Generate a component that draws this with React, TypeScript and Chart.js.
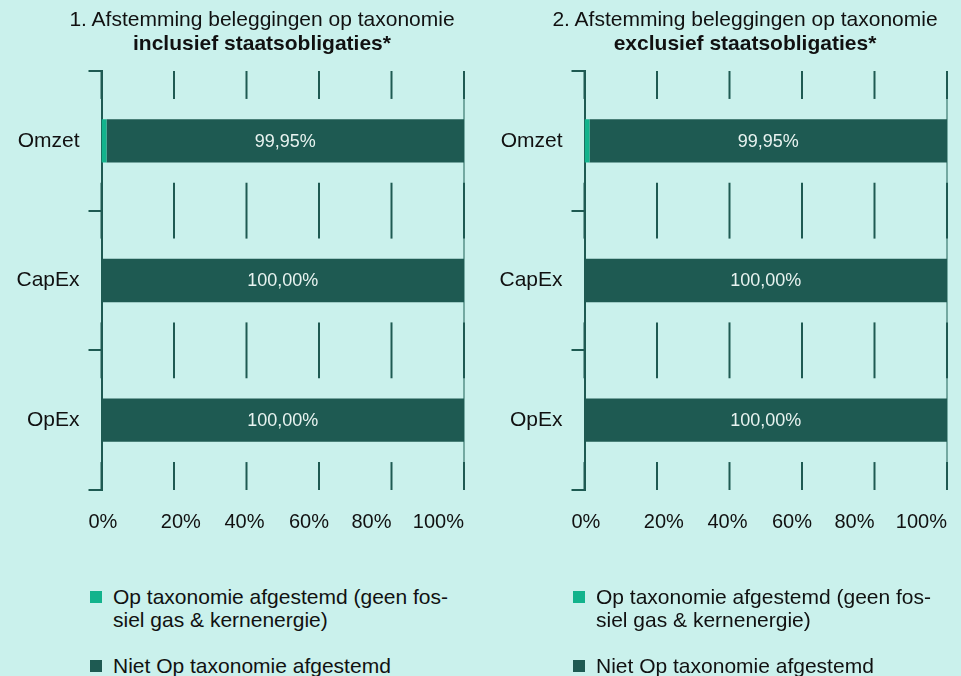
import React, { useEffect, useRef } from "react";
import { Chart, registerables } from "chart.js";

Chart.register(...registerables);

// ---------- data ----------
const categories = ["Omzet", "CapEx", "OpEx"];
const seriesNames = [
  "Op taxonomie afgestemd (geen fossiel gas & kernenergie)",
  "Niet Op taxonomie afgestemd",
];
const legendLines = [
  ["Op taxonomie afgestemd (geen fos-", "siel gas & kernenergie)"],
  ["Niet Op taxonomie afgestemd"],
];
const alignedIncl = [0.05, null, null];
const notAlignedIncl = [99.95, 100, 100];
const alignedExcl = [0.05, null, null];
const notAlignedExcl = [99.95, 100, 100];
const xTickValues = [0, 20, 40, 60, 80, 100];
const xTickLabels = ["0%", "20%", "40%", "60%", "80%", "100%"];
const titleLine1 = [
  "1. Afstemming beleggingen op taxonomie",
  "2. Afstemming beleggingen op taxonomie",
];
const titleLine2 = ["inclusief staatsobligaties*", "exclusief staatsobligaties*"];

// ---------- style ----------
const BG = "#caf1ec";
const DARK = "#1e5a52";
const BRIGHT = "#12b38c";
const TEXT = "#111111";
const FONT = "'Liberation Sans', Arial, Helvetica, sans-serif";
// fraction of each x label's width that sits left of its grid line
const X_LABEL_ANCHOR = [0.45, 0.33, 0.55, 0.75, 1, 1];

const segmentGrid = {
  id: "segmentGrid",
  beforeDatasetsDraw(chart: any) {
    const { ctx, chartArea, scales } = chart;
    const x = scales.x;
    const y = scales.y;
    const n = chart.data.labels.length;
    const band = Math.abs(y.getPixelForValue(1) - y.getPixelForValue(0));
    const half = band * 0.2;
    const bounds: number[] = [];
    for (let i = 0; i <= n; i++) bounds.push(y.getPixelForValue(i - 0.5));
    ctx.save();
    const px100 = x.getPixelForValue(x.max);
    ctx.strokeStyle = "#3a7a70";
    ctx.lineWidth = 1.2;
    ctx.beginPath();
    ctx.moveTo(px100, chartArea.top);
    ctx.lineTo(px100, chartArea.bottom);
    ctx.stroke();
    ctx.strokeStyle = DARK;
    ctx.lineWidth = 2;
    for (const v of xTickValues) {
      const px = x.getPixelForValue(v);
      for (const b of bounds) {
        const t = Math.max(chartArea.top, b - half);
        const btm = Math.min(chartArea.bottom, b + half);
        ctx.beginPath();
        ctx.moveTo(px, t);
        ctx.lineTo(px, btm);
        ctx.stroke();
      }
    }
    ctx.restore();
  },
};

const xLabels = {
  id: "xLabels",
  afterDraw(chart: any) {
    const { ctx, chartArea, scales } = chart;
    const x = scales.x;
    ctx.save();
    ctx.font = `20px ${FONT}`;
    ctx.fillStyle = TEXT;
    ctx.textBaseline = "alphabetic";
    ctx.textAlign = "left";
    xTickValues.forEach((v, i) => {
      const w = ctx.measureText(xTickLabels[i]).width;
      ctx.fillText(xTickLabels[i], x.getPixelForValue(v) - w * X_LABEL_ANCHOR[i], chartArea.bottom + 38);
    });
    ctx.restore();
  },
};

const barLabels = {
  id: "barLabels",
  afterDatasetsDraw(chart: any) {
    const { ctx } = chart;
    const meta = chart.getDatasetMeta(1);
    const data = chart.data.datasets[1].data;
    ctx.save();
    ctx.font = `18px ${FONT}`;
    ctx.fillStyle = "#e8f3f0";
    ctx.textAlign = "center";
    ctx.textBaseline = "middle";
    meta.data.forEach((el: any, i: number) => {
      const v = data[i];
      if (v == null) return;
      const { x, y } = el.getProps(["x", "y"], true);
      const label = v.toFixed(2).replace(".", ",") + "%";
      ctx.fillText(label, (x + chart.scales.x.getPixelForValue(0)) / 2, y + 1);
    });
    ctx.restore();
  },
};

function Panel({ index, aligned, notAligned }: { index: number; aligned: (number | null)[]; notAligned: number[] }) {
  const ref = useRef<HTMLCanvasElement>(null);
  useEffect(() => {
    if (!ref.current) return;
    const chart = new Chart(ref.current, {
      type: "bar",
      data: {
        labels: categories,
        datasets: [
          {
            label: seriesNames[0],
            data: aligned,
            backgroundColor: BRIGHT,
            minBarLength: 5,
            barPercentage: 0.31,
            categoryPercentage: 1,
          },
          {
            label: seriesNames[1],
            data: notAligned,
            backgroundColor: DARK,
            barPercentage: 0.31,
            categoryPercentage: 1,
          },
        ],
      },
      options: {
        indexAxis: "y",
        responsive: false,
        animation: false,
        layout: { padding: { left: 0, right: 14, top: 71, bottom: 0 } },
        plugins: {
          legend: { display: false },
          tooltip: { enabled: false },
          title: { display: false },
        },
        scales: {
          x: {
            stacked: true,
            min: 0,
            max: 100,
            afterBuildTicks: (s: any) => {
              s.ticks = xTickValues.map((v) => ({ value: v }));
            },
            afterFit: (s: any) => {
              s.height = 70;
              s.paddingLeft = 0;
              s.paddingRight = 0;
            },
            grid: { display: false, drawTicks: false },
            border: { display: false },
            ticks: { display: false },
          },
          y: {
            stacked: true,
            afterFit: (s: any) => {
              s.width = 101.5;
            },
            grid: {
              offset: true,
              drawOnChartArea: false,
              drawTicks: true,
              tickLength: 13,
              color: DARK,
              lineWidth: 2,
            },
            border: { display: true, color: DARK, width: 2 },
            ticks: {
              color: TEXT,
              padding: 9,
              font: { family: FONT, size: 21 },
            },
          },
        },
      },
      plugins: [segmentGrid, barLabels, xLabels],
    });
    return () => chart.destroy();
  }, []);

  const colors = [BRIGHT, DARK];
  const tops = [585, 654];
  return (
    <div style={{ position: "absolute", left: index === 0 ? 0 : 483, top: 0, width: 478, height: 676 }}>
      <canvas ref={ref} width={478} height={560} style={{ display: "block" }} />
      <div
        style={{
          position: "absolute",
          left: 0,
          top: 7,
          width: 524,
          textAlign: "center",
          fontFamily: FONT,
          fontSize: 21,
          lineHeight: "24px",
          color: TEXT,
          whiteSpace: "nowrap",
        }}
      >
        <div>{titleLine1[index]}</div>
        <div style={{ fontWeight: "bold" }}>{titleLine2[index]}</div>
      </div>
      {legendLines.map((lines, i) => (
        <div
          key={i}
          style={{
            position: "absolute",
            left: 90,
            top: tops[i],
            display: "flex",
            alignItems: "flex-start",
            fontFamily: FONT,
            fontSize: 21,
            lineHeight: "23px",
            color: TEXT,
            whiteSpace: "nowrap",
          }}
        >
          <span
            style={{
              display: "inline-block",
              width: 12,
              height: 12,
              background: colors[i],
              marginTop: 6,
              marginRight: 11,
              flex: "none",
            }}
          />
          <span>
            {lines.map((l, j) => (
              <div key={j}>{l}</div>
            ))}
          </span>
        </div>
      ))}
    </div>
  );
}

export default function App() {
  return (
    <div style={{ position: "fixed", left: 0, top: 0, width: 961, height: 676, background: BG, overflow: "hidden" }}>
      <Panel index={0} aligned={alignedIncl} notAligned={notAlignedIncl} />
      <Panel index={1} aligned={alignedExcl} notAligned={notAlignedExcl} />
    </div>
  );
}
